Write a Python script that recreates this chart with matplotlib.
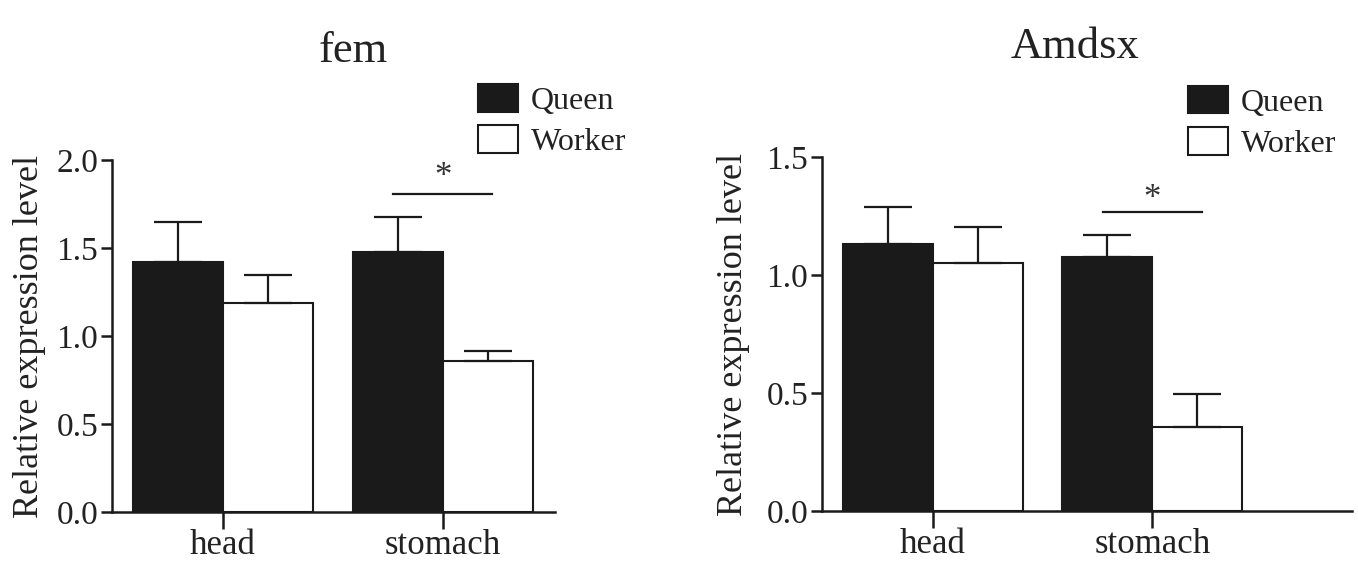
import numpy as np
import matplotlib.pyplot as plt
from matplotlib.patches import Patch

plt.rcParams['font.family'] = ['Liberation Serif', 'DejaVu Serif']

tissues = ['head', 'stomach']

# fem
fem_queen = [1.42, 1.477]
fem_queen_err = [0.228, 0.199]
fem_worker = [1.188, 0.858]
fem_worker_err = [0.159, 0.057]
fem_sig_y = 1.81

# Amdsx
dsx_queen = [1.131, 1.078]
dsx_queen_err = [0.157, 0.092]
dsx_worker = [1.05, 0.356]
dsx_worker_err = [0.153, 0.14]
dsx_sig_y = 1.267

ink = '#1a1a1a'
txt = '#222222'
bar_w = 0.41

fig = plt.figure(figsize=(13.58, 5.61), dpi=100)
ax1 = fig.add_axes([0.0825, 0.0873, 0.326, 0.627])
ax2 = fig.add_axes([0.6053, 0.0891, 0.3903, 0.631])


def draw_panel(ax, title, title_x, queen, queen_err, worker, worker_err, ymax, yticks, xmax, sig_y, star_y):
    x = np.arange(len(tissues))
    xq = x - bar_w / 2
    xw = x + bar_w / 2
    ax.bar(xq, queen, bar_w, color=ink, edgecolor=ink, linewidth=1.5, zorder=2)
    ax.bar(xw, worker, bar_w, color='white', edgecolor=ink, linewidth=1.5, zorder=2)
    ax.errorbar(xq, queen, yerr=[np.zeros(len(queen)), queen_err], fmt='none',
                ecolor=ink, elinewidth=1.6, capsize=17, capthick=1.6, zorder=3)
    ax.errorbar(xw, worker, yerr=[np.zeros(len(worker)), worker_err], fmt='none',
                ecolor=ink, elinewidth=1.6, capsize=17, capthick=1.6, zorder=3)

    # significance bar over stomach
    ax.plot([xq[1] - 0.02, xw[1] + 0.02], [sig_y, sig_y], color=ink, lw=1.6)
    ax.text(x[1], star_y, '*', ha='center', va='center', fontsize=25, color='#333333')

    ax.set_xlim(-0.505, xmax)
    ax.set_ylim(0, ymax)
    ax.set_yticks(yticks)
    ax.set_yticklabels(['%.1f' % t for t in yticks])
    ax.set_xticks(x)
    ax.set_xticklabels(tissues)
    for s in ['top', 'right']:
        ax.spines[s].set_visible(False)
    for s in ['left', 'bottom']:
        ax.spines[s].set_linewidth(1.8)
        ax.spines[s].set_color(ink)
    ax.tick_params(axis='y', length=8, width=1.8, pad=2, labelsize=24, color=ink, labelcolor=txt)
    ax.tick_params(axis='x', length=12, width=1.8, pad=0, labelsize=25, color=ink, labelcolor=txt)
    ax.set_ylabel('Relative expression level', fontsize=26, color=txt)
    ax.set_title(title, fontsize=32, color=txt, pad=71, x=title_x)


draw_panel(ax1, 'fem', 0.544, fem_queen, fem_queen_err, fem_worker, fem_worker_err,
           2.0, [0.0, 0.5, 1.0, 1.5, 2.0], 1.51, fem_sig_y, 1.90)
draw_panel(ax2, 'Amdsx', 0.477, dsx_queen, dsx_queen_err, dsx_worker, dsx_worker_err,
           1.5, [0.0, 0.5, 1.0, 1.5], 1.91, dsx_sig_y, 1.32)
ax1.yaxis.set_label_coords(-0.15, 0.5)
ax2.yaxis.set_label_coords(-0.136, 0.5)

handles = [Patch(facecolor=ink, edgecolor=ink, linewidth=1.5, label='Queen'),
           Patch(facecolor='white', edgecolor=ink, linewidth=1.5, label='Worker')]
for bx, by in [(0.352, 0.85), (0.875, 0.847)]:
    fig.legend(handles=handles, loc='upper left', bbox_to_anchor=(bx, by), frameon=False,
               fontsize=23, handlelength=1.25, handleheight=0.95, handletextpad=0.4,
               labelspacing=0.3, borderpad=0, borderaxespad=0, labelcolor=txt)

fig.savefig('out.png', dpi=100)
